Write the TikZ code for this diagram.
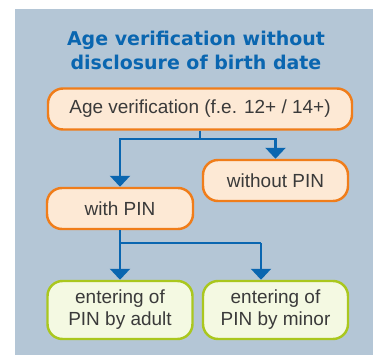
\documentclass[tikz,border=0pt]{standalone}
\usepackage{fontspec}
\setmainfont{Liberation Sans}
\newfontfamily\titlefont{DejaVu Sans}
\usetikzlibrary{arrows.meta}

\definecolor{panel}{HTML}{B4C6D6}
\definecolor{flowblue}{HTML}{0A66B0}
\definecolor{stepline}{HTML}{F07D1A}
\definecolor{stepfill}{HTML}{FDE9D5}
\definecolor{pinline}{HTML}{AAC71E}
\definecolor{pinfill}{HTML}{F4F9E2}
\definecolor{txt}{HTML}{3A3A3A}

\tikzset{
  stepbox/.style={draw=stepline, fill=stepfill, line width=1.4pt, rounded corners=0.3cm,
    minimum height=0.82cm, text=txt, font=\fontsize{10.8}{12.5}\selectfont, align=center, inner sep=0pt},
  pinbox/.style={draw=pinline, fill=pinfill, line width=1.4pt, rounded corners=0.3cm,
    minimum width=2.9cm, minimum height=1.16cm, text=txt, font=\fontsize{10.8}{12.5}\selectfont, align=center, inner sep=0pt},
  link/.style={draw=flowblue, line width=1.3pt},
  flow/.style={link, -{Triangle[width=0.4cm, length=0.22cm]}}
}

\begin{document}
\begin{tikzpicture}
                        \useasboundingbox (0,0) rectangle (7.46,7.1);
                        \fill[panel] (0.3,0) rectangle (7.46,6.92);

                        \node[text=flowblue, font=\titlefont\bfseries\fontsize{10.8}{13.6}\selectfont, align=center] (title) at (3.92,6.1) {Age verification without\\disclosure of birth date};

                        \node[stepbox, minimum width=6.08cm] (age) at (4.0,4.92) {Age verification (f.e. 12+ / 14+)};
                        \node[stepbox, minimum width=2.9cm] (withoutpin) at (5.51,3.49) {without PIN};
                        \node[stepbox, minimum width=2.92cm] (withpin) at (2.4,2.93) {with PIN};
                        \node[pinbox] (adult) at (2.4,0.9) {entering of\\PIN by adult};
                        \node[pinbox] (minor) at (5.51,0.9) {entering of\\PIN by minor};

                        \coordinate (fork1) at (4.0,4.32);
                        \coordinate (fork2) at (2.4,2.24);
                        \coordinate (fork3) at (5.22,2.24);

                        \path[link] (age) -- (fork1);
                        \path[flow] (fork1) -| (withpin);
                        \path[flow] (fork1) -| (withoutpin);

                        \path[link] (withpin) -- (fork2) -- (fork3);
                        \path[flow] (fork2) -- (adult);
                        \path[flow] (fork3) -- (fork3 |- minor.north);
                    \end{tikzpicture}
\end{document}
